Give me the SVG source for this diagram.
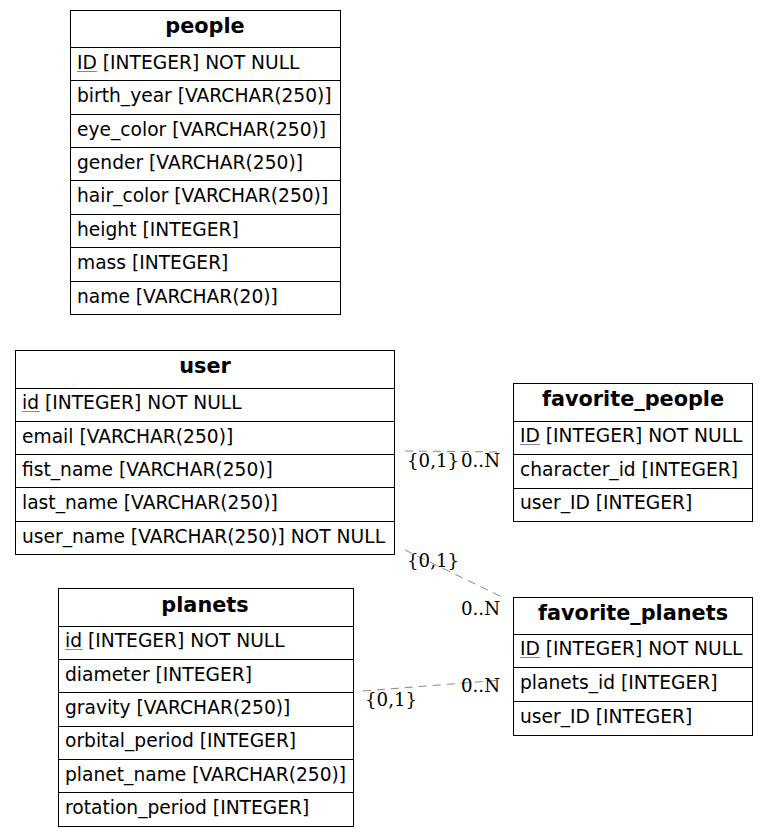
<svg xmlns="http://www.w3.org/2000/svg" width="768" height="837" viewBox="0 0 768 837">
<style>
.box{fill:#fff;stroke:#000;stroke-width:1}
.ln{stroke:#000;stroke-width:1}
.h{font-family:"DejaVu Sans",sans-serif;font-size:20.8px;font-weight:bold;text-anchor:middle;fill:#000}
.t{font-family:"DejaVu Sans",sans-serif;font-size:18.67px;fill:#000}
.u{stroke:#888;stroke-width:1}
.c{fill:none;stroke:#888;stroke-width:1;stroke-dasharray:8,6}
.l{font-family:"DejaVu Serif",serif;font-size:18.2px;fill:#000}
</style>
<rect width="768" height="837" fill="#fff"/>
<g id="connectors">
<path class="c" d="M405,451 L502,452"/>
<path class="c" d="M405,550 L502,597"/>
<path class="c" d="M363,691 L502,680"/>
<text class="l" x="407" y="467">{0,1}</text>
<text class="l" x="461" y="467">0..N</text>
<text class="l" x="407" y="567">{0,1}</text>
<text class="l" x="461" y="615">0..N</text>
<text class="l" x="365" y="706">{0,1}</text>
<text class="l" x="461" y="692">0..N</text>
</g>
<g id="people">
<rect class="box" x="70.5" y="10.5" width="270" height="304"/>
<path class="ln" d="M70,47.5H340M70,80.5H340M70,114.5H340M70,147.5H340M70,180.5H340M70,214.5H340M70,247.5H340M70,281.5H340"/>
<text class="h" x="205" y="33">people</text>
<text class="t" x="77" y="69">ID [INTEGER] NOT NULL</text>
<line class="u" x1="77" y1="71.5" x2="97" y2="71.5"/>
<text class="t" x="77" y="102">birth_year [VARCHAR(250)]</text>
<text class="t" x="77" y="136">eye_color [VARCHAR(250)]</text>
<text class="t" x="77" y="169">gender [VARCHAR(250)]</text>
<text class="t" x="77" y="202">hair_color [VARCHAR(250)]</text>
<text class="t" x="77" y="236">height [INTEGER]</text>
<text class="t" x="77" y="269">mass [INTEGER]</text>
<text class="t" x="77" y="303">name [VARCHAR(20)]</text>
</g>
<g id="user">
<rect class="box" x="15.5" y="350.5" width="379" height="204"/>
<path class="ln" d="M15,388.5H394M15,421.5H394M15,454.5H394M15,487.5H394M15,521.5H394"/>
<text class="h" x="205" y="373">user</text>
<text class="t" x="22" y="409">id [INTEGER] NOT NULL</text>
<line class="u" x1="22" y1="411.5" x2="40" y2="411.5"/>
<text class="t" x="22" y="443">email [VARCHAR(250)]</text>
<text class="t" x="22" y="476">fist_name [VARCHAR(250)]</text>
<text class="t" x="22" y="509">last_name [VARCHAR(250)]</text>
<text class="t" x="22" y="543">user_name [VARCHAR(250)] NOT NULL</text>
</g>
<g id="favorite_people">
<rect class="box" x="513.5" y="383.5" width="239" height="138"/>
<path class="ln" d="M513,421.5H752M513,454.5H752M513,488.5H752"/>
<text class="h" x="633" y="406">favorite_people</text>
<text class="t" x="520" y="442">ID [INTEGER] NOT NULL</text>
<line class="u" x1="520" y1="444.5" x2="540" y2="444.5"/>
<text class="t" x="520" y="476">character_id [INTEGER]</text>
<text class="t" x="520" y="509">user_ID [INTEGER]</text>
</g>
<g id="planets">
<rect class="box" x="58.5" y="588.5" width="295" height="238"/>
<path class="ln" d="M58,626.5H353M58,659.5H353M58,692.5H353M58,726.5H353M58,759.5H353M58,792.5H353"/>
<text class="h" x="205" y="612">planets</text>
<text class="t" x="65" y="647">id [INTEGER] NOT NULL</text>
<line class="u" x1="65" y1="649.5" x2="83" y2="649.5"/>
<text class="t" x="65" y="681">diameter [INTEGER]</text>
<text class="t" x="65" y="714">gravity [VARCHAR(250)]</text>
<text class="t" x="65" y="747">orbital_period [INTEGER]</text>
<text class="t" x="65" y="781">planet_name [VARCHAR(250)]</text>
<text class="t" x="65" y="814">rotation_period [INTEGER]</text>
</g>
<g id="favorite_planets">
<rect class="box" x="513.5" y="597.5" width="239" height="138"/>
<path class="ln" d="M513,634.5H752M513,667.5H752M513,701.5H752"/>
<text class="h" x="633" y="620">favorite_planets</text>
<text class="t" x="520" y="655">ID [INTEGER] NOT NULL</text>
<line class="u" x1="520" y1="657.5" x2="540" y2="657.5"/>
<text class="t" x="520" y="689">planets_id [INTEGER]</text>
<text class="t" x="520" y="723">user_ID [INTEGER]</text>
</g>
</svg>
